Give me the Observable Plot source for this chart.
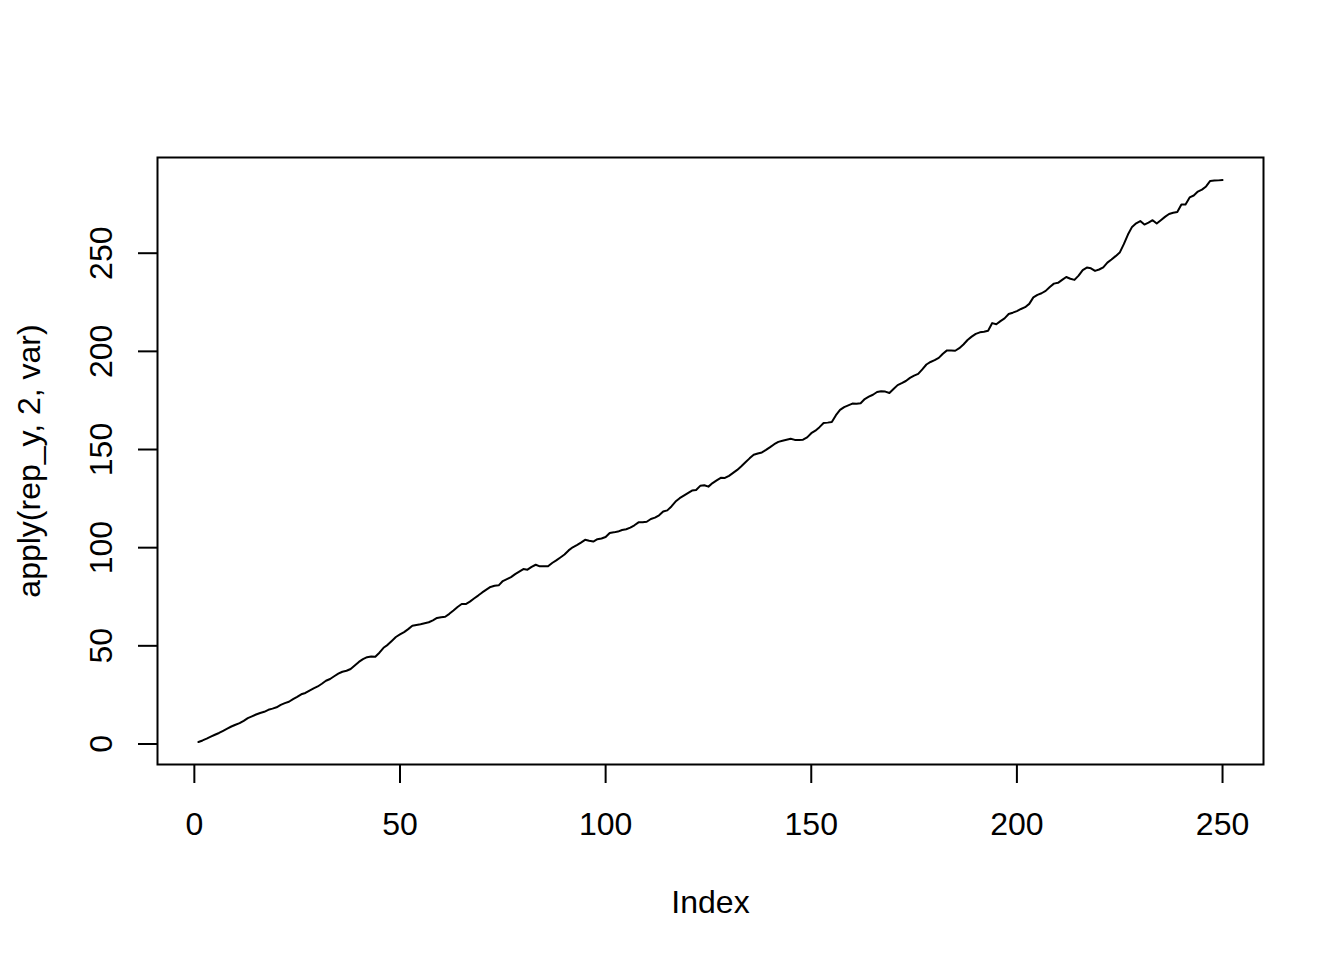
<!DOCTYPE html>
<html><head><meta charset="utf-8">
<script src="https://cdn.jsdelivr.net/npm/d3@7"></script>
<script src="https://cdn.jsdelivr.net/npm/@observablehq/plot@0.6"></script>
<style>body{margin:0;background:#fff} svg{display:block}</style>
</head><body><div id="chart"></div>
<script>
const variance = [
  1.0, 1.8, 2.7, 3.7, 4.7, 5.6, 6.7, 7.8, 8.9, 9.8,
  10.6, 11.8, 13.2, 14.1, 15.0, 15.8, 16.4, 17.4, 18.0, 18.7,
  19.9, 20.8, 21.5, 22.8, 24.0, 25.3, 26.0, 27.2, 28.3, 29.3,
  30.7, 32.2, 33.1, 34.5, 35.8, 36.8, 37.3, 38.2, 40.0, 41.8,
  43.2, 44.2, 44.6, 44.4, 46.5, 49.0, 50.5, 52.5, 54.5, 55.8,
  57.0, 58.5, 60.2, 60.6, 61.0, 61.5, 62.0, 63.0, 64.2, 64.6,
  64.8, 66.3, 68.0, 69.8, 71.3, 71.3, 72.5, 74.1, 75.6, 77.2,
  78.6, 80.0, 80.6, 80.8, 83.0, 84.0, 85.0, 86.5, 87.8, 89.1,
  88.8, 90.2, 91.3, 90.5, 90.6, 90.5, 92.2, 93.5, 95.0, 96.5,
  98.6, 100.2, 101.3, 102.6, 104.0, 103.5, 103.1, 104.3, 104.7, 105.4,
  107.5, 107.8, 108.2, 109.0, 109.4, 110.2, 111.4, 112.9, 112.9, 113.2,
  114.6, 115.3, 116.5, 118.4, 119.0, 121.0, 123.5, 125.2, 126.5, 127.8,
  129.1, 129.4, 131.5, 131.8, 131.1, 132.9, 134.3, 135.6, 135.5, 136.6,
  138.1, 139.6, 141.5, 143.5, 145.5, 147.3, 148.0, 148.5, 149.8, 151.2,
  152.7, 153.9, 154.5, 155.0, 155.5, 154.9, 154.8, 155.0, 156.2, 158.3,
  159.6, 161.4, 163.5, 163.7, 164.0, 167.5, 170.2, 171.6, 172.5, 173.4,
  173.3, 173.6, 175.7, 176.9, 177.9, 179.3, 179.7, 179.5, 178.8, 180.8,
  182.8, 183.8, 184.9, 186.5, 187.6, 188.5, 190.8, 193.3, 194.6, 195.5,
  196.7, 198.8, 200.5, 200.4, 200.3, 201.6, 203.5, 205.8, 207.5, 208.9,
  209.7, 210.0, 210.5, 214.4, 213.8, 215.4, 216.8, 219.0, 219.7, 220.5,
  221.6, 222.5, 224.2, 227.5, 228.8, 229.6, 230.8, 232.8, 234.5, 234.9,
  236.4, 237.9, 237.0, 236.4, 238.6, 241.4, 242.7, 242.3, 241.0, 241.7,
  242.8, 245.2, 246.8, 248.5, 250.3, 254.6, 259.5, 263.4, 265.2, 266.4,
  264.6, 265.6, 266.8, 265.1, 266.8, 268.5, 270.0, 270.6, 271.0, 274.8,
  274.8, 278.4, 279.4, 281.4, 282.4, 284.0, 286.8, 287.0, 287.1, 287.3
];
const index = variance.map((_, i) => i + 1);
const xTicks = [0, 50, 100, 150, 200, 250];
const yTicks = [0, 50, 100, 150, 200, 250];
const xLabel = "Index";
const yLabel = "apply(rep_y, 2, var)";

function pad([a, b]) { const d = (b - a) * 0.04; return [a - d, b + d]; }
const data = index.map((x, i) => ({x, y: variance[i]}));

const chart = Plot.plot({
  width: 1344, height: 960,
  marginLeft: 157, marginRight: 81, marginTop: 157, marginBottom: 196,
  style: {fontFamily: "'Liberation Sans', Arial, Helvetica, sans-serif", fontSize: "32px", background: "white", color: "black"},
  x: {domain: pad(d3.extent(index))},
  y: {domain: pad(d3.extent(variance))},
  marks: [
    Plot.axisX({ticks: xTicks, tickSize: 19, tickPadding: 29, strokeWidth: 2, fontSize: 32,
      label: xLabel, labelAnchor: "center", labelOffset: 148, labelArrow: "none"}),
    Plot.axisY({ticks: yTicks, tickSize: 19, tickPadding: 27, tickRotate: -90, strokeWidth: 2, fontSize: 32,
      label: yLabel, labelAnchor: "center", labelOffset: 140, labelArrow: "none"}),
    Plot.line(data, {x: "x", y: "y", stroke: "black", strokeWidth: 2}),
    Plot.frame({stroke: "black", strokeWidth: 2})
  ]
});
document.getElementById("chart").appendChild(chart);
</script>
</body></html>
